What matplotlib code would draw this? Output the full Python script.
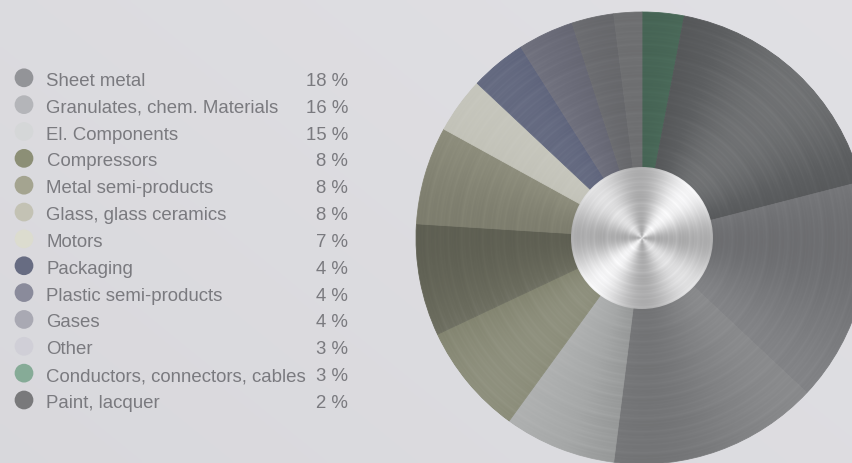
import numpy as np
import matplotlib
matplotlib.use("Agg")
import matplotlib.pyplot as plt
from matplotlib.patches import Circle

# ---- data -------------------------------------------------------------
categories = [
    "Sheet metal",
    "Granulates, chem. Materials",
    "El. Components",
    "Compressors",
    "Metal semi-products",
    "Glass, glass ceramics",
    "Motors",
    "Packaging",
    "Plastic semi-products",
    "Gases",
    "Other",
    "Conductors, connectors, cables",
    "Paint, lacquer",
]
shares = [18, 16, 15, 8, 8, 8, 7, 4, 4, 4, 3, 3, 2]
percent_labels = [f"{v} %" for v in shares]

legend_colors = [
    "#939498", "#b4b5b9", "#d5d7d8", "#8c8f76", "#a4a490", "#c3c2b4",
    "#dcdccf", "#676c82", "#8a8b9b", "#a9a9b3", "#d0cfd7", "#86ab97",
    "#79797b",
]

# slice order clockwise from 12 o'clock and the metallic tint of each slice
pie_sequence = [11, 0, 1, 2, 3, 4, 5, 6, 7, 8, 9, 10, 12]
slice_tints = [
    "#4f705f", "#5c5e60", "#7a7b7e", "#818284", "#a6a8a8", "#7f816c",
    "#6a6b5d", "#8c8c7b", "#c2c2b8", "#5b6179", "#6c6d7a", "#727377",
    "#7b7c7e",
]

BG = "#dddce1"
TEXT = "#7a7a7f"

W, H = 852, 463
fig = plt.figure(figsize=(W / 100, H / 100), dpi=100)
fig.patch.set_facecolor(BG)

# ---- soft background ----------------------------------------------------
bg_ax = fig.add_axes([0, 0, 1, 1])
bg_ax.set_axis_off()
gx, gy = np.meshgrid(np.linspace(0, 1, 200), np.linspace(0, 1, 120))
bg_val = 0.862 + 0.018 * gx - 0.012 * gy
bg_img = np.dstack([bg_val, bg_val - 0.002, bg_val + 0.014])
bg_ax.imshow(np.clip(bg_img, 0, 1), extent=(0, 1, 1, 0), aspect="auto",
             interpolation="bilinear")
bg_ax.set_xlim(0, 1)
bg_ax.set_ylim(1, 0)

# ---- legend (pixel coordinates) ----------------------------------------
lg = fig.add_axes([0, 0, 1, 1])
lg.set_axis_off()
lg.set_xlim(0, W)
lg.set_ylim(H, 0)
lg.patch.set_alpha(0)
row0, step = 77.8, 26.85
for i, (name, pct, col) in enumerate(zip(categories, percent_labels, legend_colors)):
    yc = row0 + i * step
    lg.scatter([24], [yc], s=182, color=col, edgecolors="none")
    lg.text(46.5, yc + 8.0, name, ha="left", va="baseline", fontsize=13.45,
            color=TEXT, family="Liberation Sans")
    lg.text(348, yc + 8.0, pct, ha="right", va="baseline", fontsize=13.45,
            color=TEXT, family="Liberation Sans")

# ---- pie ---------------------------------------------------------------
cx, cy, R = 642, 238, 226
ax = fig.add_axes([(cx - R) / W, (H - cy - R) / H, 2 * R / W, 2 * R / H])
ax.set_axis_off()
ax.patch.set_alpha(0)

vals = [shares[k] for k in pie_sequence]
wedges, _ = ax.pie(vals, colors=slice_tints, startangle=90, counterclock=False,
                   radius=1.0, wedgeprops=dict(linewidth=0.6))
for w, c in zip(wedges, slice_tints):
    w.set_edgecolor(c)
ax.set_xlim(-1, 1)
ax.set_ylim(-1, 1)
ax.set_aspect("equal")

# brushed-metal shading: conic highlights plus fine concentric streaks
n = 900
xs = np.linspace(-1, 1, n)
X, Y = np.meshgrid(xs, xs)
rr = np.hypot(X, Y)
th = np.arctan2(Y, X)
rpx = rr * R


def streaks(r):
    freqs = [0.61, 0.377, 0.233, 0.144, 0.089, 0.055, 0.034]
    amps = [0.25, 0.30, 0.35, 0.35, 0.30, 0.25, 0.20]
    acc = np.zeros_like(r)
    for k, (f, a) in enumerate(zip(freqs, amps)):
        acc += a * np.sin(2 * np.pi * f * r + 1.618 * k * k)
    return acc / sum(amps)


ring = streaks(rpx)
shade = 0.10 * (-np.cos(4 * th)) + 0.03 * np.cos(2 * (th - np.pi / 4)) + 0.045 * ring
rgba = np.zeros((n, n, 4))
pos = shade > 0
rgba[..., :3] = np.where(pos[..., None], 1.0, 0.0)
rgba[..., 3] = np.clip(np.abs(shade), 0, 1)
ov = ax.imshow(rgba, extent=(-1, 1, -1, 1), origin="lower", zorder=3,
               interpolation="bilinear")
ov.set_clip_path(Circle((0, 0), 1.0, transform=ax.transData))

# polished hub in the middle
hub_r = 71 / R
gray = (0.80 + 0.12 * (-np.cos(4 * th)) + 0.04 * np.cos(2 * (th - np.pi / 4))
        + 0.06 * ring * (0.6 + 0.4 * np.clip(1 - rr / hub_r, 0, 1)))
gray = np.clip(gray, 0, 1)
hub = np.dstack([gray, gray, gray * 1.005])
hub_img = ax.imshow(np.clip(hub, 0, 1), extent=(-1, 1, -1, 1), origin="lower",
                    zorder=4, interpolation="bilinear")
hub_img.set_clip_path(Circle((0, 0), hub_r, transform=ax.transData))

fig.savefig("out.png", dpi=100, facecolor=BG)
